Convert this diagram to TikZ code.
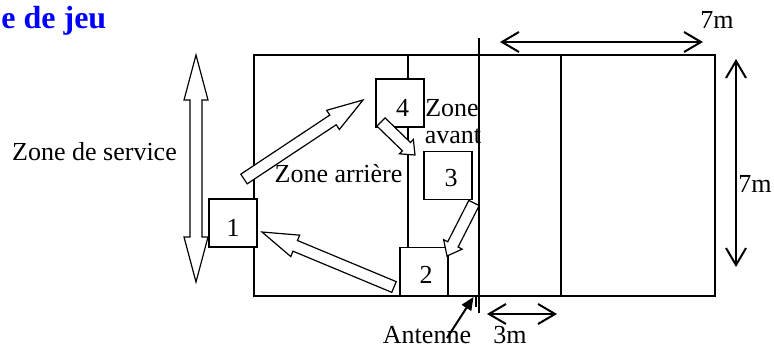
\documentclass[tikz,border=0pt]{standalone}
\usepackage{fontspec}
\setmainfont{Liberation Serif}
\usetikzlibrary{calc,arrows.meta}
\newcommand\blockarrow[5]{%
  \coordinate (hb) at ($(#2)!#5!(#1)$);
  \draw[barrow] ($(#1)!#3!90:(#2)$) -- ($(hb)!#3!90:(#2)$) -- ($(hb)!#4!90:(#2)$) -- (#2)
    -- ($(hb)!#4!-90:(#2)$) -- ($(hb)!#3!-90:(#2)$) -- ($(#1)!#3!-90:(#2)$) -- cycle;}
\begin{document}
\begin{tikzpicture}[x=0.5pt,y=-0.5pt,
  court/.style={line width=0.75pt, draw=black},
  player/.style={draw, fill=white, line width=0.7pt, minimum width=24pt, minimum height=24pt, inner sep=0pt},
  barrow/.style={draw, fill=white, line width=0.6pt, line join=miter},
  meas/.style={line width=1pt, {Straight Barb[length=8.5pt,width=10pt]}-{Straight Barb[length=8.5pt,width=10pt]}},
  txt/.style={font=\fontsize{13}{15}\selectfont, inner sep=0pt},
  ttl/.style={font=\fontsize{16}{19}\selectfont\bfseries, text=blue, inner sep=0pt},
  ]
\useasboundingbox (0,0) rectangle (774,348);
% title
\node[ttl, anchor=base west] (title) at (1,28) {e de jeu};
% court
\draw[court] (254,55) rectangle (715,296);
\draw[court] (408,55) -- (408,296);
\draw[court] (561,55) -- (561,296);
\draw[court] (479,38) -- (479,313);
\draw[court] (476,296) -- (476,307);
% players
\node[player] (b4) at (400,103) {};
\node[player] (b3) at (448,175.5) {};
\node[player] (b2) at (424,271.5) {};
\node[player] (b1) at (233,223) {};
\node[txt] (l4) at (402.5,108) {4};
\node[txt] (l3) at (451,178) {3};
\node[txt] (l2) at (426,275) {2};
\node[txt] (l1) at (233,228) {1};
% rotation arrows
\coordinate (t14) at (244,179);  \coordinate (h14) at (363,100);
\coordinate (t43) at (381,122);  \coordinate (h43) at (415,155);
\coordinate (t32) at (474,203);  \coordinate (h32) at (447,256);
\coordinate (t21) at (394,287);  \coordinate (h21) at (262,232);
\blockarrow{t14}{h14}{2.9pt}{5.75pt}{18pt}
\blockarrow{t43}{h43}{2.9pt}{5pt}{6pt}
\blockarrow{t32}{h32}{2.9pt}{5.2pt}{6.5pt}
\blockarrow{t21}{h21}{2.9pt}{5.8pt}{18pt}
% service zone double arrow
\draw[barrow] (196,55) -- (208,100) -- (202,100) -- (202,237) -- (208,237) -- (196,282)
  -- (184,237) -- (190,237) -- (190,100) -- (184,100) -- cycle;
% texts
\node[txt, anchor=base] (zs) at (94.5,160) {Zone de service};
\node[txt, anchor=base] (za) at (338.5,182) {Zone arrière};
\node[txt, anchor=base] (zv1) at (452,116) {Zone};
\node[txt, anchor=base] (zv2) at (453,143) {avant};
% measurements
\coordinate (m7a) at (500,42); \coordinate (m7b) at (703,42);
\draw[meas] (m7a) -- (m7b);
\node[txt, anchor=base west] (t7a) at (700,28) {7m};
\coordinate (m7c) at (736,59); \coordinate (m7d) at (736,267);
\draw[meas] (m7c) -- (m7d);
\node[txt, anchor=base west] (t7b) at (738,192) {7m};
\coordinate (m3a) at (487,314); \coordinate (m3b) at (557,314);
\draw[meas] (m3a) -- (m3b);
\node[txt, anchor=base] (t3) at (510,343) {3m};
% antenna
\node[txt, anchor=base] (ant) at (427,343) {Antenne};
\coordinate (antT) at (447,338); \coordinate (antH) at (473.5,297);
\draw[line width=1pt, -{Triangle[length=6.5pt,width=5.5pt]}] (antT) -- (antH);
\end{tikzpicture}
\end{document}
